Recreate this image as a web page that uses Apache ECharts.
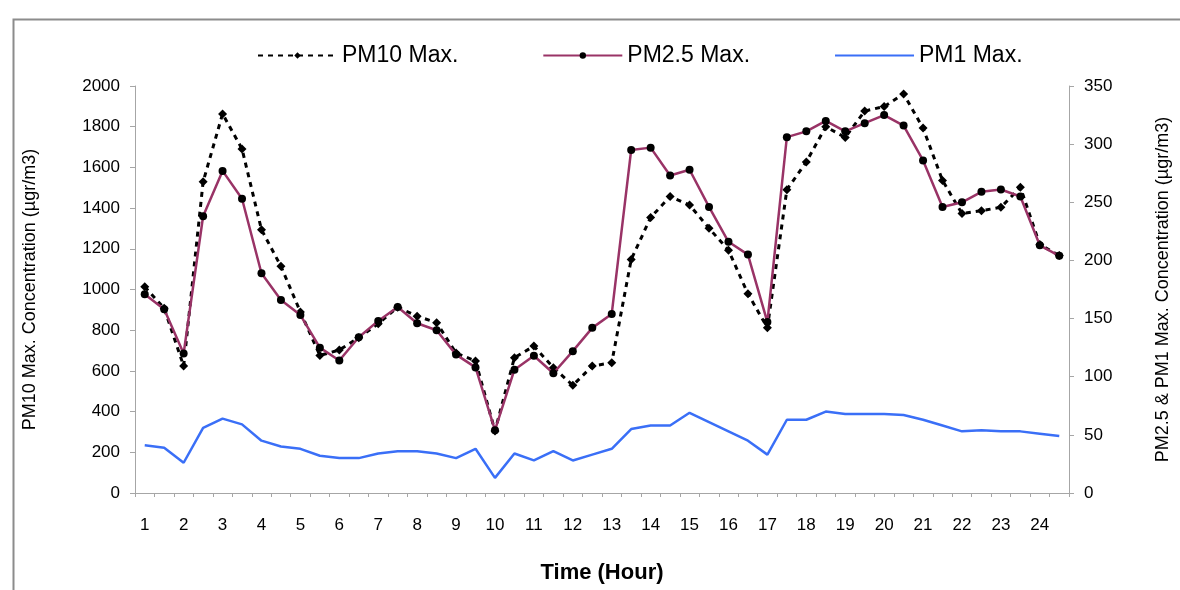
<!DOCTYPE html>
<html>
<head>
<meta charset="utf-8">
<script src="https://cdn.jsdelivr.net/npm/echarts@6/dist/echarts.min.js"></script>
<style>
html,body{margin:0;padding:0;background:#fff;}
#chart{width:1180px;height:590px;}
</style>
</head>
<body>
<div id="chart"></div>
<script>
const hours = ['1','1.5','2','2.5','3','3.5','4','4.5','5','5.5','6','6.5','7','7.5','8','8.5','9','9.5','10','10.5','11','11.5','12','12.5','13','13.5','14','14.5','15','15.5','16','16.5','17','17.5','18','18.5','19','19.5','20','20.5','21','21.5','22','22.5','23','23.5','24','24.5'];

const pm10Max = [1013,908,624,1529,1863,1691,1294,1114,890,676,703,763,832,913,869,837,688,649,305,665,722,616,529,624,640,1147,1354,1457,1415,1301,1193,979,812,1490,1627,1800,1747,1877,1899,1961,1793,1536,1373,1387,1404,1502,1221,1167];

const pm25Max = [171,158,120,238,277,253,189,166,153,125,114,134,148,160,146,140,119,108,54,106,118,103,122,142,154,295,297,273,278,246,216,205,147,306,311,320,311,318,325,316,286,246,250,259,261,255,213,204];

const pm1Max = [41,39,26,56,64,59,45,40,38,32,30,30,34,36,36,34,30,38,13,34,28,36,28,33,38,55,58,58,69,61,53,45,33,63,63,70,68,68,68,67,63,58,53,54,53,53,51,49];

const leftTicks = {min:0, max:2000, interval:200};
const rightTicks = {min:0, max:350, interval:50};

const FONT = 'Liberation Sans';
const axisGray = '#a6a6a6';

const chart = echarts.init(document.getElementById('chart'), null, {renderer:'canvas'});
chart.setOption({
  animation:false,
  backgroundColor:'#ffffff',
  textStyle:{fontFamily:FONT, color:'#000'},
  graphic:[{
    type:'rect', left:11, top:17, z:-1,
    shape:{x:0,y:0,width:1200,height:620},
    style:{fill:'none', stroke:'#8c8c8c', lineWidth:2}
  }],
  legend:{
    left:252, top:39,
    itemWidth:79, itemHeight:8, itemGap:84,
    textStyle:{fontSize:23, fontFamily:FONT, color:'#000'},
    data:[
      {name:'PM10 Max.'},
      {name:'PM2.5 Max.'},
      {name:'PM1 Max.', itemStyle:{opacity:0}}
    ]
  },
  grid:{left:135, right:110, top:86, bottom:97, containLabel:false},
  xAxis:{
    type:'category',
    data:hours,
    boundaryGap:true,
    name:'Time (Hour)',
    nameLocation:'middle',
    nameGap:69,
    nameTextStyle:{fontSize:22, fontWeight:'bold', fontFamily:FONT, color:'#000'},
    axisLine:{lineStyle:{color:axisGray, width:1}},
    axisTick:{show:true, interval:0, length:4, lineStyle:{color:axisGray}},
    axisLabel:{interval:1, fontSize:17, margin:24, color:'#000', fontFamily:FONT},
    splitLine:{show:false}
  },
  yAxis:[{
    type:'value',
    min:leftTicks.min, max:leftTicks.max, interval:leftTicks.interval,
    name:'PM10 Max. Concentration (µgr/m3)',
    nameLocation:'middle',
    nameGap:96,
    nameRotate:90,
    nameTextStyle:{fontSize:18, fontFamily:FONT, color:'#000'},
    axisLine:{show:true, lineStyle:{color:axisGray, width:1}},
    axisTick:{show:true, length:5, lineStyle:{color:axisGray}},
    axisLabel:{fontSize:17, margin:15, color:'#000', fontFamily:FONT, formatter:(v)=>String(v)},
    splitLine:{show:false}
  },{
    type:'value',
    position:'right',
    min:rightTicks.min, max:rightTicks.max, interval:rightTicks.interval,
    name:'PM2.5 & PM1 Max. Concentration (µgr/m3)',
    nameLocation:'middle',
    nameGap:85,
    nameRotate:90,
    nameTextStyle:{fontSize:18, fontFamily:FONT, color:'#000'},
    axisLine:{show:true, lineStyle:{color:axisGray, width:1}},
    axisTick:{show:true, length:5, lineStyle:{color:axisGray}},
    axisLabel:{fontSize:17, margin:15, color:'#000', fontFamily:FONT, formatter:(v)=>String(v)},
    splitLine:{show:false}
  }],
  series:[{
    name:'PM10 Max.',
    type:'line',
    yAxisIndex:0,
    data:pm10Max,
    symbol:'diamond',
    symbolSize:9,
    itemStyle:{color:'#000'},
    lineStyle:{color:'#000', width:3, type:[5,5]},
    z:2
  },{
    name:'PM2.5 Max.',
    type:'line',
    yAxisIndex:1,
    data:pm25Max,
    symbol:'circle',
    symbolSize:8,
    itemStyle:{color:'#000'},
    lineStyle:{color:'#993366', width:2.5},
    z:3
  },{
    name:'PM1 Max.',
    type:'line',
    yAxisIndex:1,
    data:pm1Max,
    symbol:'none',
    itemStyle:{color:'#3a6ff7'},
    lineStyle:{color:'#3a6ff7', width:2.5},
    z:1
  }]
});
</script>
</body>
</html>
